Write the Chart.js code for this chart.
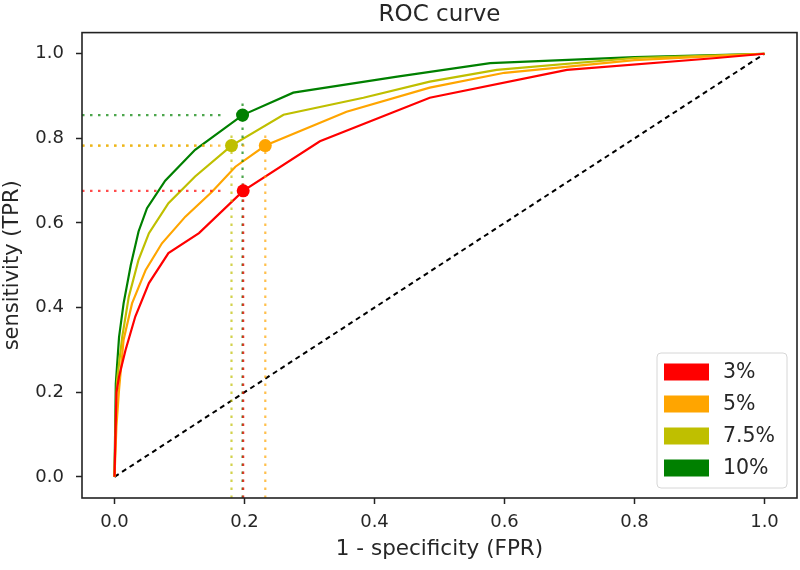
<!DOCTYPE html>
<html>
<head>
<meta charset="utf-8">
<script src="https://cdn.jsdelivr.net/npm/chart.js@4/dist/chart.umd.min.js"></script>
<style>
  html, body { margin: 0; padding: 0; background: #ffffff; }
  #wrap { width: 800px; height: 570px; }
</style>
</head>
<body>
<div id="wrap"><canvas id="c" width="800" height="570"></canvas></div>
<script>
// ---- data ----
const seriesLabels = ['3%', '5%', '7.5%', '10%'];
const seriesColors = ['#ff0000', '#ffa500', '#bfbf00', '#008000'];

const fpr3  = [0, 0.003, 0.007, 0.017, 0.032, 0.053, 0.083, 0.130, 0.198, 0.316, 0.485, 0.696, 0.926, 1];
const tpr3  = [0, 0.200, 0.237, 0.300, 0.379, 0.458, 0.529, 0.576, 0.676, 0.793, 0.896, 0.962, 0.990, 1];

const fpr5  = [0, 0.003, 0.007, 0.014, 0.027, 0.048, 0.073, 0.109, 0.150, 0.186, 0.232, 0.357, 0.485, 0.600, 0.800, 1];
const tpr5  = [0, 0.120, 0.206, 0.324, 0.410, 0.489, 0.552, 0.615, 0.674, 0.733, 0.783, 0.863, 0.920, 0.955, 0.985, 1];

const fpr75 = [0, 0.002, 0.004, 0.012, 0.022, 0.037, 0.053, 0.083, 0.124, 0.180, 0.260, 0.383, 0.485, 0.588, 0.800, 1];
const tpr75 = [0, 0.150, 0.229, 0.332, 0.426, 0.513, 0.576, 0.647, 0.710, 0.783, 0.856, 0.896, 0.934, 0.962, 0.990, 1];

const fpr10 = [0, 0.002, 0.007, 0.014, 0.025, 0.037, 0.050, 0.078, 0.124, 0.197, 0.275, 0.435, 0.578, 0.800, 1];
const tpr10 = [0, 0.220, 0.330, 0.410, 0.500, 0.580, 0.635, 0.700, 0.773, 0.855, 0.908, 0.946, 0.978, 0.992, 1];

// chosen operating points (marker) for each series
const opFpr = [0.198, 0.232, 0.180, 0.197];
const opTpr = [0.676, 0.783, 0.783, 0.855];

const xTicks = [0.0, 0.2, 0.4, 0.6, 0.8, 1.0];
const yTicks = [0.0, 0.2, 0.4, 0.6, 0.8, 1.0];
const axisMin = -0.05, axisMax = 1.05;

// ---- build datasets ----
const FONT = 'DejaVu Sans';
const fprs = [fpr3, fpr5, fpr75, fpr10];
const tprs = [tpr3, tpr5, tpr75, tpr10];

function pts(xs, ys) { return xs.map((x, i) => ({ x: x, y: ys[i] })); }
function alpha(hex, a) {
  const r = parseInt(hex.slice(1, 3), 16), g = parseInt(hex.slice(3, 5), 16), b = parseInt(hex.slice(5, 7), 16);
  return `rgba(${r},${g},${b},${a})`;
}

const datasets = [];
// diagonal
datasets.push({
  label: 'chance', data: [{ x: 0, y: 0 }, { x: 1, y: 1 }], showLine: true,
  borderColor: '#000000', borderWidth: 2, borderDash: [5, 4], pointRadius: 0, order: 4, isLegend: false
});
// curves
for (let i = 0; i < 4; i++) {
  datasets.push({
    label: seriesLabels[i], data: pts(fprs[i], tprs[i]), showLine: true,
    borderColor: seriesColors[i], backgroundColor: seriesColors[i], borderWidth: 2.2,
    pointRadius: 0, tension: 0, order: 3, isLegend: true
  });
}
// dotted guide lines (axhline / axvline with axes-fraction extent)
const span = axisMax - axisMin;
for (let i = 0; i < 4; i++) {
  datasets.push({
    label: seriesLabels[i] + ' h', data: [{ x: axisMin, y: opTpr[i] }, { x: axisMin + span * opFpr[i], y: opTpr[i] }],
    showLine: true, borderColor: alpha(seriesColors[i], 0.7), borderWidth: 2.2, borderDash: [2.5, 5.5],
    pointRadius: 0, order: 2, isLegend: false
  });
  datasets.push({
    label: seriesLabels[i] + ' v', data: [{ x: opFpr[i], y: axisMin }, { x: opFpr[i], y: axisMin + span * opTpr[i] }],
    showLine: true, borderColor: alpha(seriesColors[i], 0.7), borderWidth: 2.2, borderDash: [2.5, 5.5],
    pointRadius: 0, order: 2, isLegend: false
  });
}
// markers
for (let i = 0; i < 4; i++) {
  datasets.push({
    label: seriesLabels[i] + ' point', data: [{ x: opFpr[i], y: opTpr[i] }], showLine: false,
    pointRadius: 6.5, pointBackgroundColor: seriesColors[i], pointBorderColor: seriesColors[i],
    pointBorderWidth: 0, order: 1, isLegend: false
  });
}

// ---- plugins ----
const titleOverAxes = {
  id: 'titleOverAxes',
  afterLayout(chart) {
    if (chart.titleBlock) {
      chart.titleBlock.left = chart.chartArea.left;
      chart.titleBlock.right = chart.chartArea.right;
    }
  }
};

const framePlugin = {
  id: 'frame',
  afterDatasetsDraw(chart) {
    const a = chart.chartArea, ctx = chart.ctx;
    ctx.save();
    ctx.strokeStyle = '#222222';
    ctx.lineWidth = 1.6;
    ctx.strokeRect(a.left, a.top, a.right - a.left, a.bottom - a.top);
    ctx.restore();
  }
};

const boxLegend = {
  id: 'boxLegend',
  afterDraw(chart) {
    const a = chart.chartArea, ctx = chart.ctx;
    const items = chart.data.datasets.filter(d => d.isLegend);
    const w = 130, rowH = 32, h = 135;
    const x0 = a.right - 10 - w, y0 = a.bottom - 10 - h;
    ctx.save();
    const r = 4;
    ctx.beginPath();
    ctx.moveTo(x0 + r, y0);
    ctx.lineTo(x0 + w - r, y0); ctx.quadraticCurveTo(x0 + w, y0, x0 + w, y0 + r);
    ctx.lineTo(x0 + w, y0 + h - r); ctx.quadraticCurveTo(x0 + w, y0 + h, x0 + w - r, y0 + h);
    ctx.lineTo(x0 + r, y0 + h); ctx.quadraticCurveTo(x0, y0 + h, x0, y0 + h - r);
    ctx.lineTo(x0, y0 + r); ctx.quadraticCurveTo(x0, y0, x0 + r, y0);
    ctx.closePath();
    ctx.fillStyle = 'rgba(255,255,255,0.8)';
    ctx.fill();
    ctx.strokeStyle = '#d6d6d6';
    ctx.lineWidth = 1;
    ctx.stroke();
    ctx.font = `20.5px "${FONT}"`;
    ctx.textBaseline = 'middle';
    ctx.textAlign = 'left';
    items.forEach((d, i) => {
      const cy = y0 + 19 + i * rowH;
      ctx.fillStyle = d.borderColor;
      ctx.fillRect(x0 + 7, cy - 8.5, 45, 17);
      ctx.fillStyle = '#262626';
      ctx.fillText(d.label, x0 + 66, cy + 1);
    });
    ctx.restore();
  }
};

const tickFont = { family: FONT, size: 18 };

new Chart(document.getElementById('c'), {
  type: 'scatter',
  data: { datasets: datasets },
  options: {
    responsive: false,
    animation: false,
    devicePixelRatio: 1,
    layout: { autoPadding: false, padding: { left: 0, right: 3, top: 0, bottom: 0 } },
    plugins: {
      legend: { display: false },
      tooltip: { enabled: false },
      title: {
        display: true, text: 'ROC curve', color: '#262626',
        font: { family: FONT, size: 23, weight: 'normal', lineHeight: 1.2 },
        padding: { top: 1, bottom: 4 }
      }
    },
    scales: {
      x: {
        type: 'linear', min: axisMin, max: axisMax,
        afterBuildTicks: s => { s.ticks = xTicks.map(v => ({ value: v })); },
        afterFit: s => { s.height = 72; s.paddingLeft = 0; s.paddingRight = 0; },
        ticks: { font: tickFont, color: '#262626', padding: 8, maxRotation: 0, autoSkip: false,
                 callback: v => Number(v).toFixed(1) },
        grid: { drawOnChartArea: false, drawTicks: true, tickLength: 6, tickColor: '#222222', tickWidth: 1.5 },
        border: { display: false },
        title: { display: true, text: '1 - specificity (FPR)', color: '#262626',
                 font: { family: FONT, size: 21.5, lineHeight: 1.2 }, padding: { top: 0, bottom: 8 } }
      },
      y: {
        type: 'linear', min: axisMin, max: axisMax,
        afterBuildTicks: s => { s.ticks = yTicks.map(v => ({ value: v })); },
        afterFit: s => { s.width = 82; s.paddingTop = 0; s.paddingBottom = 0; },
        ticks: { font: tickFont, color: '#262626', padding: 12, autoSkip: false,
                 callback: v => Number(v).toFixed(1) },
        grid: { drawOnChartArea: false, drawTicks: true, tickLength: 6, tickColor: '#222222', tickWidth: 1.5 },
        border: { display: false },
        title: { display: true, text: 'sensitivity (TPR)', color: '#262626',
                 font: { family: FONT, size: 21, lineHeight: 1.2 }, padding: { top: 0, bottom: 0 } }
      }
    }
  },
  plugins: [titleOverAxes, framePlugin, boxLegend]
});
</script>
</body>
</html>
